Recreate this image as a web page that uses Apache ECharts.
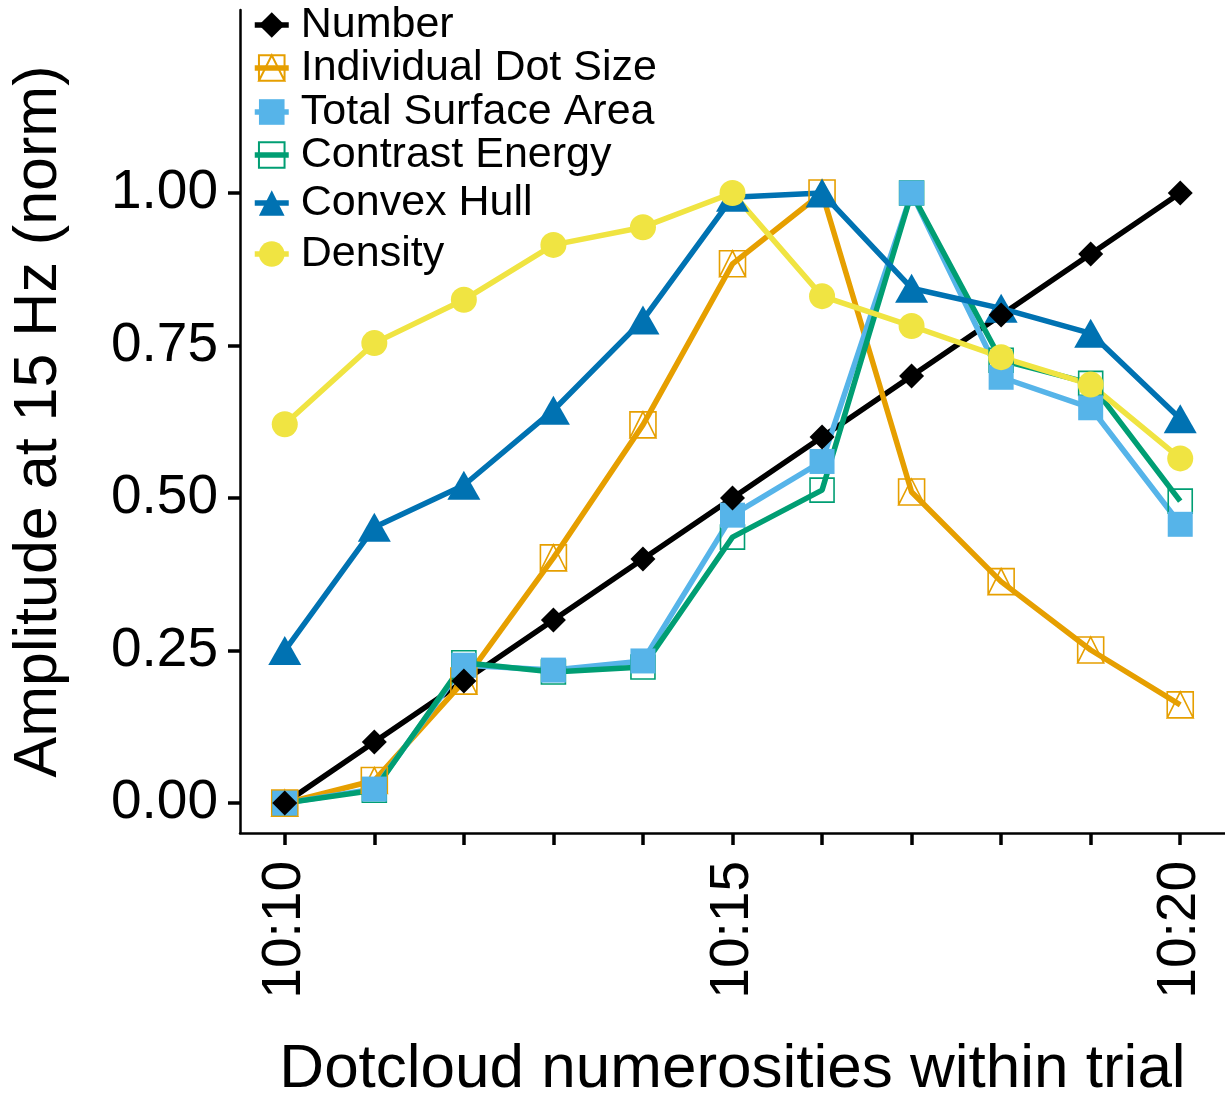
<!DOCTYPE html>
<html><head><meta charset="utf-8">
<script src="https://cdn.jsdelivr.net/npm/echarts@6/dist/echarts.min.js"></script>
<style>html,body{margin:0;padding:0;background:#fff}#chart{width:1225px;height:1095px}</style>
</head><body><div id="chart"></div>
<script>
// ---- data ----
const categories = ['10:10','10:11','10:12','10:13','10:14','10:15','10:16','10:17','10:18','10:19','10:20'];
const number         = [0, 0.1, 0.2, 0.3, 0.4, 0.5, 0.6, 0.7, 0.8, 0.9, 1.0];
const dotSize        = [0, 0.037, 0.200, 0.402, 0.620, 0.884, 1.000, 0.510, 0.363, 0.251, 0.161];
const surfaceArea    = [0, 0.023, 0.226, 0.218, 0.233, 0.472, 0.560, 1.000, 0.698, 0.648, 0.457];
const contrastEnergy = [0, 0.021, 0.230, 0.215, 0.223, 0.436, 0.513, 1.000, 0.726, 0.688, 0.495];
const convexHull     = [0.250, 0.452, 0.521, 0.644, 0.792, 0.993, 1.000, 0.844, 0.811, 0.770, 0.630];
const density        = [0.621, 0.754, 0.825, 0.915, 0.944, 1.000, 0.831, 0.782, 0.731, 0.686, 0.565];
const yTicks = [0, 0.25, 0.5, 0.75, 1.0];

const FONT = "'Liberation Sans', Arial, Helvetica, sans-serif";
const SQ_TRI = 'path://M0,0L10,0L10,10L0,10Z M0,10L5,0L10,10Z';

const specs = [
  {name:'Number', data:number, line:'#000000', symbol:'diamond', size:25, item:{color:'#000000', opacity:1}},
  {name:'Individual Dot Size', data:dotSize, line:'#E69F00', symbol:SQ_TRI, size:26, item:{color:'rgba(0,0,0,0)', borderColor:'#E69F00', borderWidth:1.6, opacity:1}},
  {name:'Total Surface Area', data:surfaceArea, line:'#56B4E9', symbol:'rect', size:25, item:{color:'#56B4E9', opacity:1}},
  {name:'Contrast Energy', data:contrastEnergy, line:'#009E73', symbol:'rect', size:24, item:{color:'rgba(0,0,0,0)', borderColor:'#009E73', borderWidth:1.6, opacity:1}},
  {name:'Convex Hull', data:convexHull, line:'#0072B2', symbol:'triangle', size:[33,29], item:{color:'#0072B2', opacity:1}},
  {name:'Density', data:density, line:'#F0E442', symbol:'circle', size:26, item:{color:'#F0E442', opacity:1}}
];
const legendCenters = [25, 68, 112, 155, 203, 254];
const pointOrder = [3, 1, 2, 4, 5, 0];
const LW = 5.5;

const series = [];
specs.forEach(s => {
  series.push({
    type:'line', name:s.name, data:s.data, showSymbol:false,
    symbol:s.symbol, symbolSize:s.size, itemStyle:s.item,
    lineStyle:{color:s.line, width:LW}, z:2, animation:false,
    emphasis:{disabled:true}, silent:true
  });
});
pointOrder.forEach(i => {
  const s = specs[i];
  series.push({
    type:'scatter', name:s.name, data:s.data, symbol:s.symbol, symbolSize:s.size,
    itemStyle:s.item, z:3, animation:false, emphasis:{disabled:true}, silent:true
  });
});

const legends = specs.map((s, i) => ({
  data:[s.name], left:252, top:legendCenters[i]-22, orient:'vertical', padding:0,
  itemWidth:34, itemHeight:32, itemGap:0, selectedMode:false,
  lineStyle:{width:LW},
  textStyle:{fontSize:43, color:'#000', fontFamily:FONT, lineHeight:44, padding:[0,0,0,7]}
}));

const chart = echarts.init(document.getElementById('chart'));
chart.setOption({
  backgroundColor:'#ffffff',
  animation:false,
  grid:{left:240, right:0, top:10, bottom:262, containLabel:false, outerBoundsMode:'none'},
  legend:legends,
  xAxis:{
    type:'category', data:categories, boundaryGap:true,
    name:'Dotcloud numerosities within trial', nameLocation:'middle', nameGap:206,
    nameTextStyle:{fontSize:62, color:'#000', fontFamily:FONT},
    axisLine:{show:true, onZero:false, lineStyle:{color:'#000', width:2.5}},
    axisTick:{show:true, alignWithLabel:true, interval:0, length:12, lineStyle:{color:'#000', width:3.5}},
    axisLabel:{interval:4, rotate:90, fontSize:55, margin:28, color:'#000', fontFamily:FONT},
    splitLine:{show:false}
  },
  yAxis:{
    type:'value', min:-0.049, max:1.3,
    name:'Amplitude at 15 Hz (norm)', nameLocation:'middle', nameGap:170,
    nameTextStyle:{fontSize:61, color:'#000', fontFamily:FONT},
    axisLine:{show:true, onZero:false, lineStyle:{color:'#000', width:2.5}},
    axisTick:{show:true, customValues:yTicks, length:12, lineStyle:{color:'#000', width:3.5}},
    axisLabel:{customValues:yTicks, formatter:v => v.toFixed(2), fontSize:55, margin:22, color:'#000', fontFamily:FONT},
    splitLine:{show:false}
  },
  series:series
});
</script></body></html>
